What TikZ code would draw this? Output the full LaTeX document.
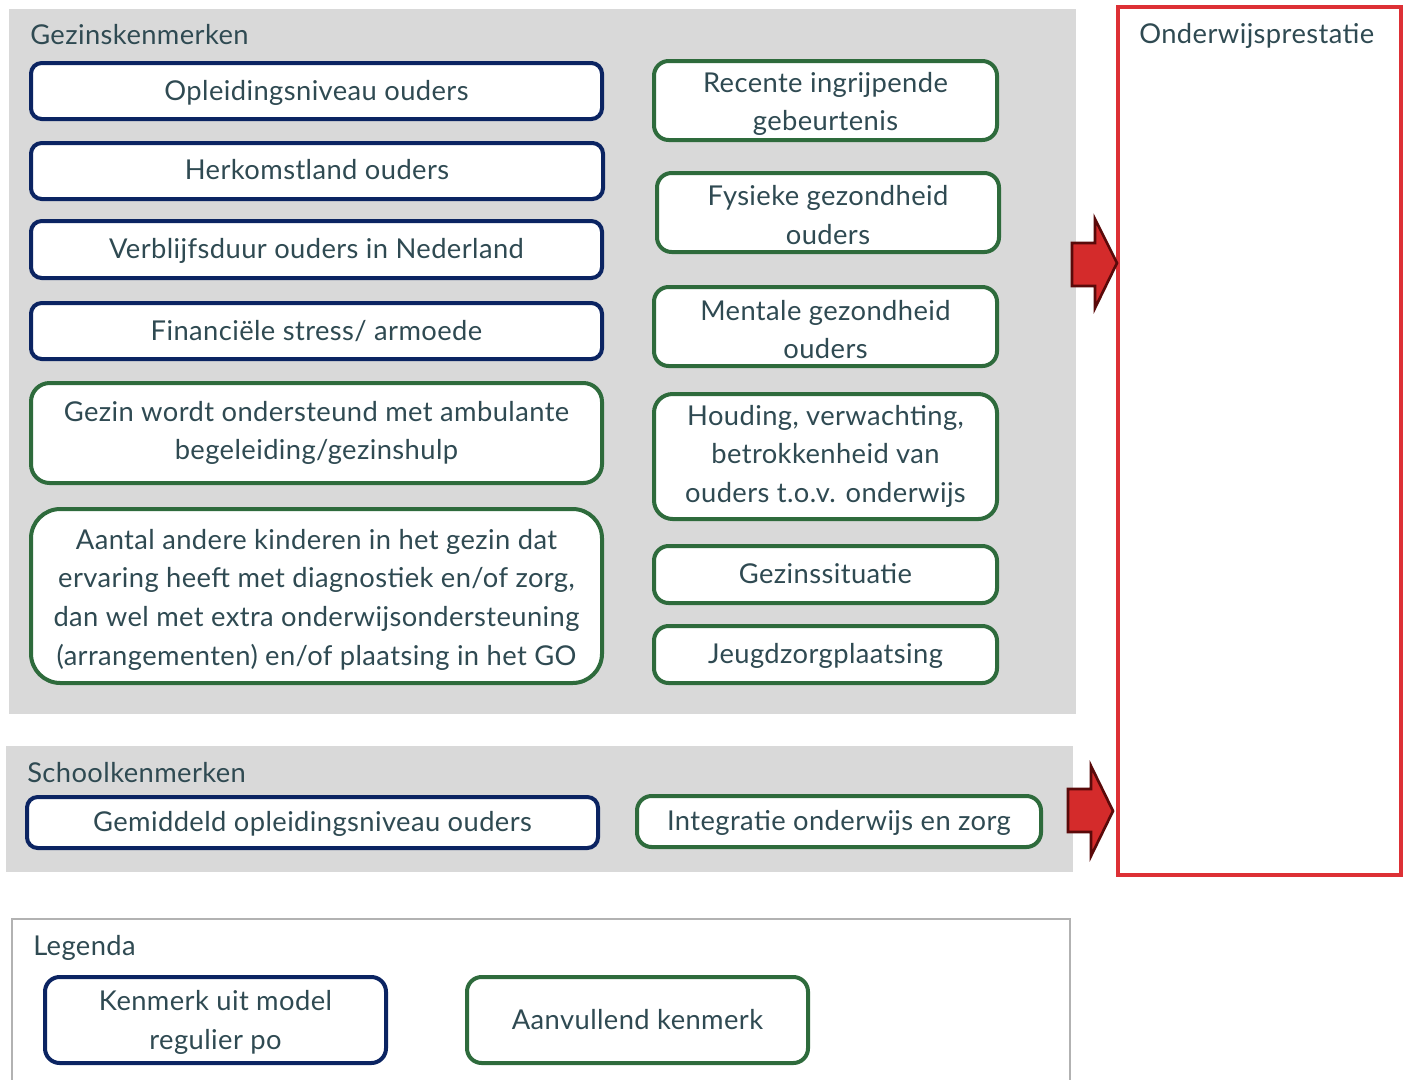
\documentclass[tikz,border=0pt]{standalone}
\usepackage{fontspec}
\setmainfont{Lato}[LetterSpace=1.5]
\definecolor{navy}{HTML}{0B2462}
\definecolor{grn}{HTML}{2E6B3C}
\definecolor{txt}{HTML}{2F4A52}
\definecolor{panel}{HTML}{D9D9D9}
\definecolor{redline}{HTML}{DD3035}
\definecolor{arrowfill}{HTML}{D42B2B}
\definecolor{arrowdraw}{HTML}{5A0A0A}
\newcommand{\kstrut}{\rule[-4pt]{0pt}{20.8pt}}
% \kdown{x}: pushes the text block down by x/2 pt
\newcommand{\kdown}[1]{\rule{0pt}{\dimexpr 16.8pt+#1pt\relax}}
\begin{document}
\begin{tikzpicture}[x=0.75pt,y=-0.75pt,
  kbox/.style={fill=white,line width=3pt,text=txt,align=center,inner sep=0pt,
    font=\fontsize{20.5}{29}\selectfont,
    execute at begin node=\kstrut, execute at end node=\kstrut},
  bluebox/.style={kbox,draw=navy,rounded corners=8pt},
  greenbox/.style={kbox,draw=grn,rounded corners=11pt},
  title/.style={text=txt,anchor=base west,inner sep=0pt,font=\fontsize{20.5}{24}\selectfont},
  blockarrow/.style={fill=arrowfill,draw=arrowdraw,line width=2pt,line join=miter}]
\clip (0,0) rectangle (1407,1079);
\fill[white] (0,0) rectangle (1407,1079);
% panels
\fill[panel] (9,9) rectangle (1076,714);
\fill[panel] (6,746) rectangle (1073,872);
\draw[draw=black!30,line width=1.5pt,fill=white] (12,1100) -- (12,919) -- (1070,919) -- (1070,1100);
\draw[draw=redline,line width=2.5pt,fill=white] (1118,7) rectangle (1401,875);
% titles
\node[title] (tg) at (30,44) {Gezinskenmerken};
\node[title] (ts) at (27,782) {Schoolkenmerken};
\node[title] (tl) at (33,955) {Legenda};
\node[title] (to) at (1139,43) {Onderwijsprestatie};
% left column
\node[bluebox,minimum width={571*0.75pt},minimum height={56*0.75pt}] (b1) at (316.5,91) {\kdown{1.5}Opleidingsniveau ouders};
\node[bluebox,minimum width={572*0.75pt},minimum height={56*0.75pt}] (b2) at (317,171) {Herkomstland ouders};
\node[bluebox,minimum width={571*0.75pt},minimum height={57*0.75pt}] (b3) at (316.5,249.5) {Verblijfsduur ouders in Nederland};
\node[bluebox,minimum width={571*0.75pt},minimum height={56*0.75pt}] (b4) at (316.5,331) {\kdown{1.5}Financiële stress/ armoede};
\node[greenbox,rounded corners=14pt,minimum width={571*0.75pt},minimum height={100*0.75pt}] (b5) at (316.5,433) {Gezin wordt ondersteund met ambulante\\begeleiding/gezinshulp};
\node[greenbox,rounded corners=22pt,minimum width={571*0.75pt},minimum height={174*0.75pt}] (b6) at (316.5,596) {\kdown{3.75}Aantal andere kinderen in het gezin dat\\ervaring heeft met diagnostiek en/of zorg,\\dan wel met extra onderwijsondersteuning\\(arrangementen) en/of plaatsing in het GO};
% right column
\node[greenbox,minimum width={343*0.75pt},minimum height={79*0.75pt}] (b7) at (825.5,100.5) {\kdown{3.75}Recente ingrijpende\\gebeurtenis};
\node[greenbox,minimum width={342*0.75pt},minimum height={79*0.75pt}] (b8) at (828,212.5) {\kdown{6}Fysieke gezondheid\\ouders};
\node[greenbox,minimum width={343*0.75pt},minimum height={79*0.75pt}] (b9) at (825.5,326.5) {\kdown{6.75}Mentale gezondheid\\ouders};
\node[greenbox,rounded corners=14pt,minimum width={343*0.75pt},minimum height={125*0.75pt}] (b10) at (825.5,456.5) {Houding, verwachting,\\betrokkenheid van\\ouders t.o.v. onderwijs};
\node[greenbox,minimum width={343*0.75pt},minimum height={57*0.75pt}] (b11) at (825.5,574.5) {Gezinssituatie};
\node[greenbox,minimum width={343*0.75pt},minimum height={57*0.75pt}] (b12) at (825.5,654.5) {Jeugdzorgplaatsing};
% school
\node[bluebox,minimum width={571*0.75pt},minimum height={51*0.75pt}] (s1) at (312.5,822.5) {Gemiddeld opleidingsniveau ouders};
\node[greenbox,minimum width={404*0.75pt},minimum height={51*0.75pt}] (s2) at (839,821.5) {Integratie onderwijs en zorg};
% legend
\node[bluebox,rounded corners=11pt,minimum width={341*0.75pt},minimum height={86*0.75pt}] (l1) at (215.5,1020) {\kdown{2.25}Kenmerk uit model\\regulier po};
\node[greenbox,rounded corners=11pt,minimum width={341*0.75pt},minimum height={86*0.75pt}] (l2) at (637.5,1020) {\kdown{2}Aanvullend kenmerk};
% block arrows
\draw[blockarrow] (1072,243) -- (1095,243) -- (1095,219) -- (1117,263) -- (1095,308) -- (1095,286) -- (1072,286) -- cycle;
\draw[blockarrow] (1068,789) -- (1091,789) -- (1091,766) -- (1113,811) -- (1091,856) -- (1091,832) -- (1068,832) -- cycle;
\end{tikzpicture}
\end{document}
